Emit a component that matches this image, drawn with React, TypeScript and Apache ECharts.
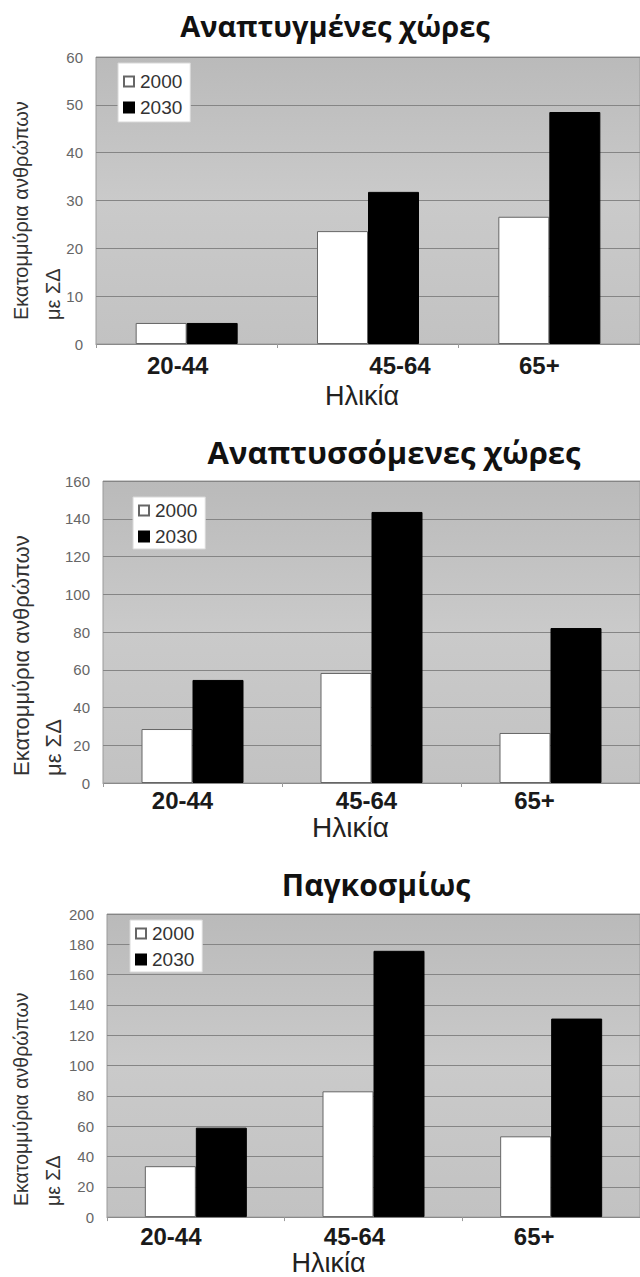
import React, { useEffect, useRef } from "react";
import * as echarts from "echarts";

const categories = ["20-44", "45-64", "65+"];
const seriesNames = ["2000", "2030"];
const developed2000 = [4.4, 23.6, 26.6];
const developed2030 = [4.4, 31.8, 48.5];
const developing2000 = [28.6, 58.3, 26.5];
const developing2030 = [54.6, 143.6, 82.1];
const world2000 = [33.6, 83, 53.3];
const world2030 = [59, 175.7, 131];
const titles = ["Αναπτυγμένες χώρες", "Αναπτυσσόμενες χώρες", "Παγκοσμίως"];
const yMaxes = [60, 160, 200];
const ySteps = [10, 20, 20];
const xAxisName = "Ηλικία";
const yNameLine1 = "Εκατομμύρια ανθρώπων";
const yNameLine2 = "με ΣΔ";

const values2000 = [developed2000, developing2000, world2000];
const values2030 = [developed2030, developing2030, world2030];

const FONT = "'Liberation Sans', Arial, sans-serif";

const panels = [
  {
    left: 96, top: 57, height: 287,
    titleX: 335, titleY: 25, titleSize: 29,
    labelShift: [-9, 32, -10], labelMargin: 9,
    nameShift: -6, nameGap: 38, nameSize: 27,
    yNameX: 5, yNameY: 320, yNameSize: 20,
    legendLeft: 118, legendTop: 63, legendPad: [9, 8, 5, 5],
  },
  {
    left: 103, top: 481, height: 302,
    titleX: 394, titleY: 452, titleSize: 31,
    labelShift: [-10, -5, -16], labelMargin: 5,
    nameShift: -21, nameGap: 30, nameSize: 28,
    yNameX: 5, yNameY: 776, yNameSize: 22,
    legendLeft: 133, legendTop: 497, legendPad: [4, 8, 3, 5],
  },
  {
    left: 107, top: 914, height: 304,
    titleX: 376, titleY: 884, titleSize: 30,
    labelShift: [-25, -19, -17], labelMargin: 7,
    nameShift: -45, nameGap: 31, nameSize: 27,
    yNameX: 5, yNameY: 1206, yNameSize: 19.5,
    legendLeft: 130, legendTop: 920, legendPad: [4, 8, 3, 5],
  },
];

export default function App() {
  const ref = useRef<HTMLDivElement>(null);
  useEffect(() => {
    document.body.style.margin = "0";
    if (!ref.current) return;
    const chart = echarts.init(ref.current, undefined, { renderer: "svg" });
    const H = 1277;

    const grids = panels.map((p) => ({
      left: p.left,
      top: p.top,
      right: 0,
      bottom: H - p.top - p.height,
      show: true,
      backgroundColor: new echarts.graphic.LinearGradient(0, 0, 0, 1, [
        { offset: 0, color: "#bababa" },
        { offset: 0.5, color: "#cacaca" },
        { offset: 1, color: "#c2c2c2" },
      ]),
      borderColor: "#9a9a9a",
      borderWidth: 1,
    }));

    const xAxes = panels.map((p, i) => ({
      type: "category",
      gridIndex: i,
      data: categories.map((c, k) => {
        const s = p.labelShift[k];
        return {
          value: c,
          textStyle: { padding: s < 0 ? [0, -2 * s, 0, 0] : [0, 0, 0, 2 * s] },
        };
      }),
      axisLine: { lineStyle: { color: "#8a8a8a", width: 1 } },
      axisTick: { show: true, length: 4, lineStyle: { color: "#9a9a9a" } },
      axisLabel: {
        fontSize: 24,
        fontWeight: "bold",
        color: "#1a1a1a",
        fontFamily: FONT,
        margin: p.labelMargin,
      },
      name: xAxisName,
      nameLocation: "middle",
      nameGap: p.nameGap,
      nameTextStyle: {
        fontSize: p.nameSize,
        color: "#222",
        fontFamily: FONT,
        padding: p.nameShift < 0 ? [0, -2 * p.nameShift, 0, 0] : [0, 0, 0, 2 * p.nameShift],
      },
    }));

    const yAxes = panels.map((p, i) => ({
      type: "value",
      gridIndex: i,
      min: 0,
      max: yMaxes[i],
      interval: ySteps[i],
      axisLine: { show: false },
      axisTick: { show: false },
      axisLabel: { fontSize: 15, color: "#666", fontFamily: FONT, margin: 13 },
      splitLine: { lineStyle: { color: "#858585", width: 1.2 } },
    }));

    const series: any[] = [];
    panels.forEach((p, i) => {
      series.push({
        name: seriesNames[0],
        type: "bar",
        xAxisIndex: i,
        yAxisIndex: i,
        data: values2000[i],
        barWidth: 51,
        barGap: "0%",
        itemStyle: { color: "#ffffff", borderColor: "#666", borderWidth: 1 },
      });
      series.push({
        name: seriesNames[1],
        type: "bar",
        xAxisIndex: i,
        yAxisIndex: i,
        data: values2030[i],
        barWidth: 51,
        barGap: "0%",
        itemStyle: { color: "#000000", borderColor: "#000", borderWidth: 1 },
      });
    });

    const legends = panels.map((p) => ({
      data: seriesNames,
      orient: "vertical",
      left: p.legendLeft,
      top: p.legendTop,
      icon: "rect",
      itemWidth: 10,
      itemHeight: 10,
      itemGap: 7,
      padding: p.legendPad,
      backgroundColor: "#ffffff",
      borderColor: "#d8d8d8",
      borderWidth: 1,
      selectedMode: false,
      textStyle: { fontSize: 19, color: "#333", fontFamily: FONT, padding: [0, 0, 0, 1] },
    }));

    const graphics: any[] = [];
    panels.forEach((p, i) => {
      graphics.push({
        type: "text",
        x: p.titleX,
        y: p.titleY,
        style: {
          text: titles[i],
          textAlign: "center",
          textVerticalAlign: "middle",
          fontSize: p.titleSize,
          fontWeight: "bold",
          fontFamily: "'Open Sans', sans-serif",
          fill: "#111",
        },
      });
      graphics.push({
        type: "text",
        x: p.yNameX,
        y: p.yNameY,
        rotation: Math.PI / 2,
        style: {
          text: yNameLine1 + "\n" + yNameLine2,
          textAlign: "left",
          textVerticalAlign: "top",
          fontSize: p.yNameSize,
          lineHeight: 32,
          fontFamily: FONT,
          fill: "#333",
        },
      });
    });

    chart.setOption({
      animation: false,
      backgroundColor: "#ffffff",
      grid: grids,
      xAxis: xAxes,
      yAxis: yAxes,
      legend: legends,
      series,
      graphic: graphics,
    });
    return () => chart.dispose();
  }, []);
  return <div ref={ref} style={{ width: 640, height: 1277 }} />;
}
